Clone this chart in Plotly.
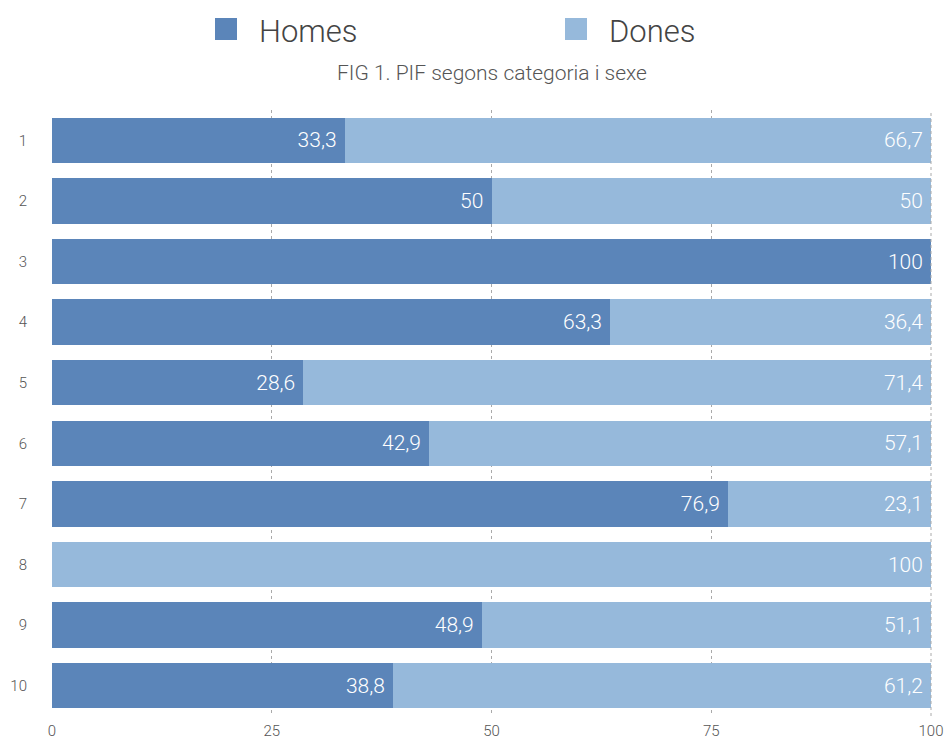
import plotly.graph_objects as go

# Data
categories = ["1", "2", "3", "4", "5", "6", "7", "8", "9", "10"]
homes = [33.3, 50, 100, 63.3, 28.6, 42.9, 76.9, 0, 48.9, 38.8]
dones = [66.7, 50, 0, 36.4, 71.4, 57.1, 23.1, 100, 51.1, 61.2]
x_ticks = [0, 25, 50, 75, 100]

COLOR_HOMES = "#5B85B9"
COLOR_DONES = "#96B9DB"
GRID = "#AAAAAA"
FONT = "Roboto"

ML, MR, MT, MB = 52, 15, 110, 24
W, H = 946, 740
PW, PH = W - ML - MR, H - MT - MB


def fmt(v):
    if v == 0:
        return ""
    s = f"{v:g}"
    # decimal comma, with a little breathing room before the bar end
    return s.replace(".", ",") + "\u00a0"


fig = go.Figure()
for name, vals, color in [("Homes", homes, COLOR_HOMES), ("Dones", dones, COLOR_DONES)]:
    fig.add_trace(go.Bar(
        y=categories,
        x=vals,
        name=name,
        orientation="h",
        marker=dict(color=color, line=dict(width=0)),
        text=[fmt(v) for v in vals],
        textposition="inside",
        insidetextanchor="end",
        textfont=dict(family=FONT, size=21, color="white", weight=300),
        hoverinfo="x+y+name",
        showlegend=False,
    ))

fig.update_layout(
    width=W,
    height=H,
    barmode="stack",
    barnorm="percent",
    bargap=0.25,
    plot_bgcolor="white",
    paper_bgcolor="white",
    margin=dict(l=ML, r=MR, t=MT, b=MB),
    font=dict(family=FONT, color="#555555", weight=300),
    uniformtext=dict(minsize=21, mode="show"),
    xaxis=dict(
        range=[0, 100],
        tickvals=x_ticks,
        ticktext=[str(t) for t in x_ticks],
        showgrid=True,
        gridcolor=GRID,
        griddash="dot",
        gridwidth=1,
        zeroline=False,
        showline=False,
        ticks="",
        automargin=False,
        tickfont=dict(size=15, color="#555555", family=FONT, weight=300),
        ticklabelstandoff=4,
        fixedrange=True,
    ),
    yaxis=dict(
        categoryorder="array",
        categoryarray=categories[::-1],
        showgrid=False,
        zeroline=False,
        showline=False,
        ticks="",
        automargin=False,
        ticklabelstandoff=24,
        tickfont=dict(size=15, color="#555555", family=FONT, weight=300),
        fixedrange=True,
    ),
)

# Gridline on the right edge of the axis (not drawn by the axis itself)
fig.add_shape(
    type="line", xref="paper", yref="paper", x0=1, x1=1, y0=0, y1=1,
    line=dict(color=GRID, width=1, dash="dot"), layer="above",
)

# Title centred over the plotting area
fig.add_annotation(
    text="FIG 1. PIF segons categoria i sexe",
    xref="paper", yref="paper", x=0.5, y=1.0, yshift=37,
    xanchor="center", yanchor="middle", showarrow=False,
    font=dict(family=FONT, size=21, color="#555555", weight=300),
)

# Legend drawn with large swatches
legend_items = [("Homes", COLOR_HOMES, 215), ("Dones", COLOR_DONES, 565)]
for label, color, px in legend_items:
    fig.add_shape(
        type="rect", xref="paper", yref="paper",
        x0=(px - ML) / PW, x1=(px + 22 - ML) / PW,
        y0=(H - MB - 40) / PH, y1=(H - MB - 18) / PH,
        fillcolor=color, line=dict(width=0),
    )
    fig.add_annotation(
        text=label, xref="paper", yref="paper",
        x=(px + 42 - ML) / PW, y=(H - MB - 31) / PH,
        xanchor="left", yanchor="middle", showarrow=False,
        font=dict(family=FONT, size=31, color="#444444", weight=300),
    )

fig.write_html("out.html")
